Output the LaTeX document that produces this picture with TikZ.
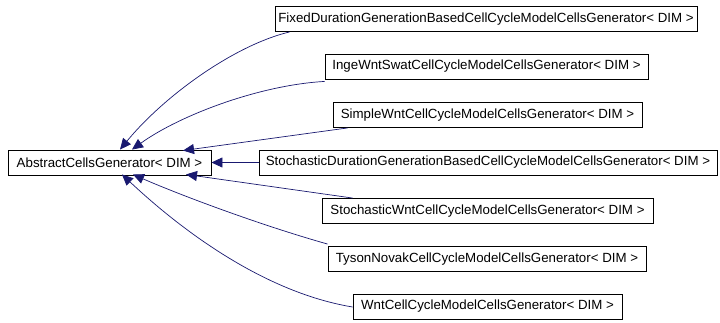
\documentclass[tikz,border=0pt]{standalone}
\usepackage{fontspec}
\setmainfont{Liberation Sans}
\usetikzlibrary{arrows.meta}
\definecolor{edgeblue}{HTML}{191970}
\begin{document}
\begin{tikzpicture}[x=1pt,y=-1pt,
  cls/.style={draw=black,line width=0.9pt,fill=white,inner sep=0pt,
    minimum height=25pt,font=\fontsize{13.3}{15}\selectfont},
  inherit/.style={draw=edgeblue,line width=0.7pt,
    {Triangle[length=11pt,width=10pt,fill=edgeblue]}-}]
\useasboundingbox (0,0) rectangle (720,323);

% base class
\node[cls,minimum width=203pt] (abs) at (109.5,162.5) {AbstractCellsGenerator< DIM >};

% derived generators
\node[cls,minimum width=422pt] (fixed) at (486,19) {FixedDurationGenerationBasedCellCycleModelCellsGenerator< DIM >};
\node[cls,minimum width=323pt] (inge)  at (486.5,66.5) {IngeWntSwatCellCycleModelCellsGenerator< DIM >};
\node[cls,minimum width=309pt] (simple) at (487.5,115) {SimpleWntCellCycleModelCellsGenerator< DIM >};
\node[cls,minimum width=458pt] (sdur) at (488,162.5) {StochasticDurationGenerationBasedCellCycleModelCellsGenerator< DIM >};
\node[cls,minimum width=331pt] (swnt) at (487.5,211) {StochasticWntCellCycleModelCellsGenerator< DIM >};
\node[cls,minimum width=318pt] (tyson) at (487,259) {TysonNovakCellCycleModelCellsGenerator< DIM >};
\node[cls,minimum width=269pt] (wnt) at (487.5,306.5) {WntCellCycleModelCellsGenerator< DIM >};

% inheritance arrows
\draw[inherit] ([xshift=10.5pt]abs.north) .. controls (165,95) and (235,45) .. ([xshift=15pt]fixed.south west);
\draw[inherit] ([xshift=22.5pt]abs.north) .. controls (180,115) and (260,85) .. ([yshift=-2pt]inge.south west);
\draw[inherit] ([xshift=73.5pt,yshift=-1pt]abs.north) -- ([xshift=15pt]simple.south west);
\draw[inherit] (abs.east) -- (sdur.west);
\draw[inherit] ([xshift=76.5pt,yshift=1pt]abs.south) -- ([xshift=31pt]swnt.north west);
\draw[inherit] ([xshift=23.5pt,yshift=1pt]abs.south) .. controls (180,195) and (260,225) .. ([yshift=2pt]tyson.north west);
\draw[inherit] ([xshift=12.5pt,yshift=1pt]abs.south) .. controls (160,210) and (250,290) .. ([yshift=-0.5pt]wnt.west);
\end{tikzpicture}
\end{document}
